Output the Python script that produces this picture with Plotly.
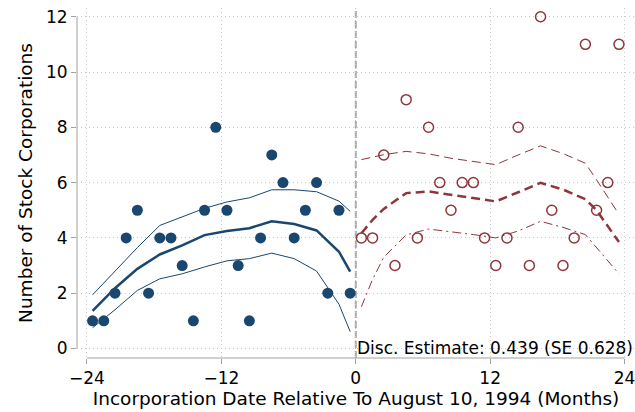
import plotly.graph_objects as go

# monthly bins, months relative to Aug 10 1994
x_left = [-23.5, -22.5, -21.5, -20.5, -19.5, -18.5, -17.5, -16.5, -15.5, -14.5, -13.5, -12.5,
          -11.5, -10.5, -9.5, -8.5, -7.5, -6.5, -5.5, -4.5, -3.5, -2.5, -1.5, -0.5]
n_left = [1, 1, 2, 4, 5, 2, 4, 4, 3, 1, 5, 8, 5, 3, 1, 4, 7, 6, 4, 5, 6, 2, 5, 2]
x_right = [0.5, 1.5, 2.5, 3.5, 4.5, 5.5, 6.5, 7.5, 8.5, 9.5, 10.5, 11.5,
           12.5, 13.5, 14.5, 15.5, 16.5, 17.5, 18.5, 19.5, 20.5, 21.5, 22.5, 23.5]
n_right = [4, 4, 7, 3, 9, 4, 8, 6, 5, 6, 6, 4, 3, 4, 8, 3, 12, 5, 3, 4, 11, 5, 6, 11]

# local polynomial fit + 95% CI
fit_x_left = [-23.5, -21.5, -19.5, -17.5, -15.5, -13.5, -11.5, -9.5, -7.5, -5.5, -3.5, -1.5, -0.5]
fit_left = [1.36, 2.18, 2.88, 3.4, 3.73, 4.1, 4.25, 4.35, 4.6, 4.5, 4.27, 3.5, 2.78]
hi_left = [1.94, 2.8, 3.65, 4.45, 4.75, 5.07, 5.3, 5.45, 5.74, 5.74, 5.67, 5.33, 4.96]
lo_left = [0.75, 1.4, 2.1, 2.52, 2.7, 2.95, 3.17, 3.25, 3.45, 3.25, 2.8, 1.6, 0.61]

fit_x_right = [0.5, 1.5, 2.5, 4.5, 6.5, 8.5, 10.5, 12.5, 14.5, 16.5, 18.5, 20.5, 21.5, 23.5]
fit_right = [4.17, 4.65, 5.05, 5.62, 5.68, 5.56, 5.45, 5.32, 5.65, 5.99, 5.75, 5.4, 5.0, 3.85]
hi_right = [6.83, 6.93, 7.01, 7.13, 7.04, 6.88, 6.77, 6.65, 7.0, 7.33, 7.05, 6.7, 6.1, 4.85]
lo_right = [1.51, 2.5, 3.3, 4.11, 4.32, 4.23, 4.12, 4.0, 4.25, 4.6, 4.38, 4.12, 3.65, 2.7]

disc_text = "Disc. Estimate: 0.439 (SE 0.628)"

navy = "#1a476f"
maroon = "#90353b"
font = "DejaVu Sans"

xr = [-24.89, 24.93]
yr = [-0.344, 12.315]

fig = go.Figure()

fig.add_trace(go.Scatter(x=fit_x_left, y=hi_left, mode="lines",
                         line=dict(color=navy, width=1)))
fig.add_trace(go.Scatter(x=fit_x_left, y=lo_left, mode="lines",
                         line=dict(color=navy, width=1)))
fig.add_trace(go.Scatter(x=fit_x_left, y=fit_left, mode="lines",
                         line=dict(color=navy, width=2.5)))
fig.add_trace(go.Scatter(x=fit_x_right, y=hi_right, mode="lines",
                         line=dict(color=maroon, width=1, dash="9px,5px")))
fig.add_trace(go.Scatter(x=fit_x_right, y=lo_right, mode="lines",
                         line=dict(color=maroon, width=1, dash="9px,4px,2px,4px")))
fig.add_trace(go.Scatter(x=fit_x_right, y=fit_right, mode="lines",
                         line=dict(color=maroon, width=2.5, dash="9px,5px")))

fig.add_trace(go.Scatter(x=x_left, y=n_left, mode="markers", cliponaxis=False,
                         marker=dict(color=navy, size=11, line=dict(width=0))))
fig.add_trace(go.Scatter(x=x_right, y=n_right, mode="markers", cliponaxis=False,
                         marker=dict(symbol="circle-open", color=maroon, size=10,
                                     line=dict(width=1.5))))

# cutoff
fig.add_shape(type="line", xref="x", yref="paper", x0=0, x1=0, y0=0, y1=1,
              line=dict(color="#a8a8a8", width=2, dash="7px,3px"), layer="below")

# stata-style axis lines that only span the tick range
def xp(v):
    return (v - xr[0]) / (xr[1] - xr[0])

def yp(v):
    return (v - yr[0]) / (yr[1] - yr[0])

fig.add_shape(type="line", xref="paper", yref="paper", x0=xp(-24), x1=xp(24), y0=0, y1=0,
              line=dict(color="#a0a0a0", width=1))
fig.add_shape(type="line", xref="paper", yref="paper", x0=0, x1=0, y0=yp(0), y1=yp(12),
              line=dict(color="#a0a0a0", width=1))

fig.add_annotation(text=disc_text, xref="paper", x=1.0, xanchor="right",
                   yref="y", y=0, yanchor="middle", showarrow=False,
                   font=dict(family=font, size=17, color="black"))

fig.update_xaxes(range=xr, tickvals=[-24, -12, 0, 12, 24], showline=False, zeroline=False,
                 ticks="outside", ticklen=5, tickcolor="#a0a0a0", automargin=False,
                 ticklabeloverflow="allow",
                 showgrid=True, gridcolor="#c8c8c8", griddash="1px,3px", gridwidth=1,
                 tickfont=dict(family=font, size=17, color="black"),
                 title=dict(text="Incorporation Date Relative To August 10, 1994 (Months)",
                            font=dict(family=font, size=18.5, color="black"), standoff=4))
fig.update_yaxes(range=yr, tickvals=[0, 2, 4, 6, 8, 10, 12], showline=False, zeroline=False,
                 ticks="outside", ticklen=5, tickcolor="#a0a0a0", automargin=False,
                 showgrid=True, gridcolor="#c8c8c8", griddash="1px,3px", gridwidth=1,
                 tickfont=dict(family=font, size=17, color="black"),
                 title=dict(text="Number of Stock Corporations",
                            font=dict(family=font, size=18.5, color="black"), standoff=8))

fig.update_layout(width=635, height=412, margin=dict(l=77, r=0, t=8, b=54),
                  plot_bgcolor="white", paper_bgcolor="white", showlegend=False)

fig.write_html("out.html", config={"displayModeBar": False},
               post_script="document.body.style.margin='0';")
